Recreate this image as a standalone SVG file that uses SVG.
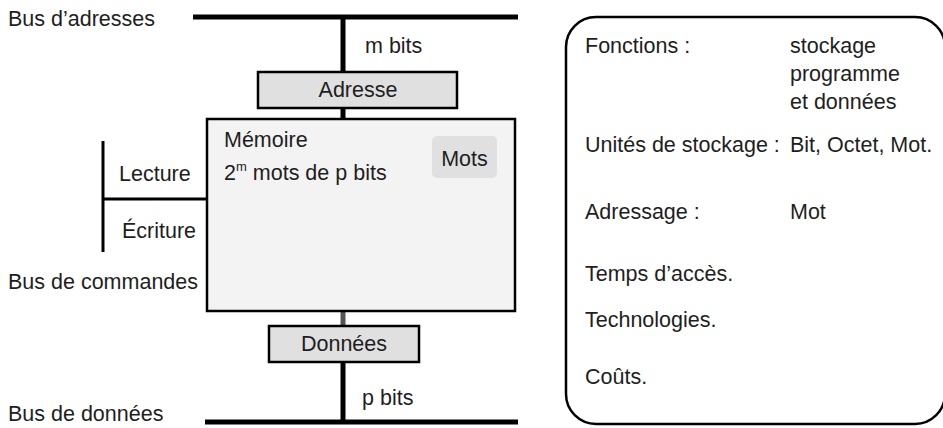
<svg xmlns="http://www.w3.org/2000/svg" width="943" height="428" viewBox="0 0 943 428">
  <style>
    text { font-family: "Liberation Sans", Arial, sans-serif; font-size: 21.5px; fill: #1e1e1e; }
    .mid { text-anchor: middle; }
    .bus { stroke: #000; stroke-width: 5; fill: none; }
    .reg { fill: #e0e0e0; stroke: #000; stroke-width: 2.5; }
    .thin { stroke: #000; stroke-width: 3; fill: none; }
  </style>

  <!-- buses and links -->
  <g id="connectors">
    <line class="bus" x1="193" y1="17" x2="518" y2="17"/>
    <line class="bus" x1="343" y1="17" x2="343" y2="72"/>
    <line class="bus" x1="343" y1="108" x2="343" y2="119"/>
    <line x1="343" y1="311" x2="343" y2="325" stroke="#555" stroke-width="5"/>
    <line class="bus" x1="343" y1="362" x2="343" y2="422"/>
    <line class="bus" x1="205" y1="422" x2="518" y2="422"/>
    <!-- command bus -->
    <line class="thin" x1="103" y1="141" x2="103" y2="252"/>
    <line class="thin" x1="103" y1="199" x2="207" y2="199"/>
  </g>

  <g id="bus-labels">
    <text x="8" y="26">Bus d’adresses</text>
    <text x="8" y="289">Bus de commandes</text>
    <text x="8" y="421">Bus de données</text>
    <text x="119" y="181">Lecture</text>
    <text x="122" y="238">Écriture</text>
    <text x="365" y="53">m bits</text>
    <text x="362" y="405">p bits</text>
  </g>

  <g id="adresse">
    <rect class="reg" x="258" y="72" width="199" height="36"/>
    <text class="mid" x="358" y="97">Adresse</text>
  </g>

  <g id="memoire">
    <rect x="207" y="119" width="308" height="192" fill="#f3f3f3" stroke="#000" stroke-width="2.5"/>
    <text x="224" y="147">Mémoire</text>
    <text x="224" y="180">2<tspan font-size="13" dy="-9">m</tspan><tspan dy="9"> mots de p bits</tspan></text>
  </g>

  <g id="mots">
    <rect x="432" y="136" width="65" height="42" rx="5" fill="#e0e0e0"/>
    <text class="mid" x="464.5" y="166">Mots</text>
  </g>

  <g id="donnees">
    <rect class="reg" x="269" y="326" width="150" height="36"/>
    <text class="mid" x="344" y="351">Données</text>
  </g>

  <g id="caracteristiques">
    <rect x="566" y="17" width="379" height="407" rx="30" ry="30" fill="#fff" stroke="#000" stroke-width="2.5"/>
    <text x="585" y="53">Fonctions :</text>
    <text x="790" y="53">stockage</text>
    <text x="790" y="81">programme</text>
    <text x="790" y="109">et données</text>
    <text x="585" y="152">Unités de stockage :</text>
    <text x="790" y="152">Bit, Octet, Mot.</text>
    <text x="585" y="219">Adressage :</text>
    <text x="790" y="219">Mot</text>
    <text x="585" y="281">Temps d’accès.</text>
    <text x="585" y="327">Technologies.</text>
    <text x="585" y="384">Coûts.</text>
  </g>
</svg>
